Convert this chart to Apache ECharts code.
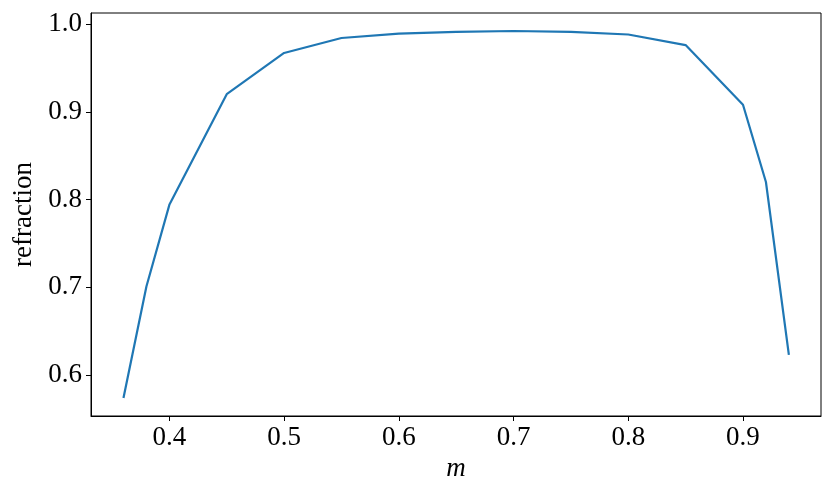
<!DOCTYPE html>
<html>
<head>
<meta charset="utf-8">
<script src="https://cdn.jsdelivr.net/npm/echarts@6/dist/echarts.min.js"></script>
<style>
html,body{margin:0;padding:0;background:#fff;}
#main{width:832px;height:490px;}
</style>
</head>
<body>
<div id="main"></div>
<script>
// data
var mValues = [0.36, 0.38, 0.40, 0.45, 0.50, 0.55, 0.60, 0.65, 0.70, 0.75, 0.80, 0.85, 0.90, 0.92, 0.94];
var refractionValues = [0.574, 0.701, 0.794, 0.920, 0.967, 0.984, 0.989, 0.991, 0.992, 0.991, 0.988, 0.976, 0.908, 0.820, 0.623];
var xTicks = [0.4, 0.5, 0.6, 0.7, 0.8, 0.9];
var yTicks = [0.6, 0.7, 0.8, 0.9, 1.0];

var points = [];
for (var i = 0; i < mValues.length; i++) {
	points.push([mValues[i], refractionValues[i]]);
}

var fontFam = "'Times New Roman', 'Liberation Serif', Tinos, serif";
var chart = echarts.init(document.getElementById('main'), null, {renderer: 'canvas'});
var option = {
	animation: false,
	backgroundColor: '#fff',
	grid: {
		left: 91,
		right: 11,
		top: 13,
		bottom: 74,
		show: true,
		borderColor: '#000',
		borderWidth: 1,
		containLabel: false,
		outerBoundsMode: 'none'
	},
	xAxis: {
		type: 'value',
		min: 0.3317,
		max: 0.968,
		name: 'm',
		nameLocation: 'middle',
		nameGap: 36,
		nameTextStyle: {fontFamily: fontFam, fontSize: 27, fontStyle: 'italic', color: '#000'},
		axisLine: {show: true, onZero: false, lineStyle: {color: '#000', width: 1}},
		axisTick: {show: true, length: 5, customValues: xTicks, lineStyle: {color: '#000'}},
		axisLabel: {
			customValues: xTicks,
			fontFamily: fontFam, fontSize: 27, color: '#000', margin: 8,
			formatter: function (v) { return v.toFixed(1); }
		},
		splitLine: {show: false}
	},
	yAxis: {
		type: 'value',
		min: 0.5535,
		max: 1.0125,
		name: 'refraction',
		nameLocation: 'middle',
		nameGap: 54,
		nameRotate: 90,
		nameTextStyle: {fontFamily: fontFam, fontSize: 27, color: '#000'},
		axisLine: {show: true, onZero: false, lineStyle: {color: '#000', width: 1}},
		axisTick: {show: true, length: 5, customValues: yTicks, lineStyle: {color: '#000'}},
		axisLabel: {
			customValues: yTicks,
			fontFamily: fontFam, fontSize: 27, color: '#000', margin: 9,
			formatter: function (v) { return v.toFixed(1); }
		},
		splitLine: {show: false}
	},
	series: [{
		type: 'line',
		data: points,
		showSymbol: false,
		symbol: 'none',
		lineStyle: {color: '#1f77b4', width: 2.2},
		itemStyle: {color: '#1f77b4'}
	}]
};
chart.setOption(option);
</script>
</body>
</html>
